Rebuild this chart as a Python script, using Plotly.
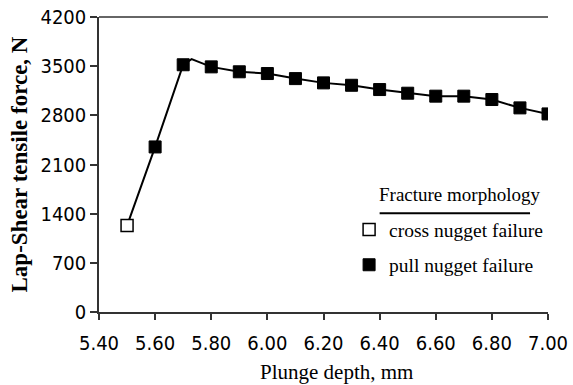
import plotly.graph_objects as go

# Data
line_x = [5.5, 5.6, 5.7, 5.73, 5.8, 5.9, 6.0, 6.1, 6.2, 6.3, 6.4, 6.5, 6.6, 6.7, 6.8, 6.9, 7.0]
line_y = [1230, 2350, 3520, 3600, 3490, 3420, 3395, 3323, 3262, 3228, 3167, 3115, 3073, 3073, 3025, 2906, 2820]

cross_x = [5.5]
cross_y = [1230]

pull_x = [5.6, 5.7, 5.8, 5.9, 6.0, 6.1, 6.2, 6.3, 6.4, 6.5, 6.6, 6.7, 6.8, 6.9, 7.0]
pull_y = [2350, 3520, 3490, 3420, 3395, 3323, 3262, 3228, 3167, 3115, 3073, 3073, 3025, 2906, 2820]

x_ticks = [5.4, 5.6, 5.8, 6.0, 6.2, 6.4, 6.6, 6.8, 7.0]
x_tick_labels = ["5.40", "5.60", "5.80", "6.00", "6.20", "6.40", "6.60", "6.80", "7.00"]
y_ticks = [0, 700, 1400, 2100, 2800, 3500, 4200]

serif = "Liberation Serif, Times New Roman, serif"
narrow = "DejaVu Sans Condensed, sans-serif"

fig = go.Figure()
fig.add_trace(go.Scatter(x=line_x, y=line_y, mode="lines",
                         line=dict(color="black", width=2), showlegend=False, hoverinfo="skip"))
fig.add_trace(go.Scatter(x=cross_x, y=cross_y, mode="markers", name="cross nugget failure",
                         legendgroup="a",
                         marker=dict(symbol="square", size=12, color="white",
                                     line=dict(color="black", width=1.5))))
fig.add_trace(go.Scatter(x=pull_x, y=pull_y, mode="markers", name="pull nugget failure",
                         legendgroup="b",
                         marker=dict(symbol="square", size=12, color="black",
                                     line=dict(color="black", width=1))))

fig.update_layout(
    width=573, height=385,
    margin=dict(l=99, r=25, t=17, b=73),
    paper_bgcolor="white", plot_bgcolor="white",
    showlegend=True,
    legend=dict(x=0.557, y=0.345, xanchor="left", yanchor="top",
                font=dict(family=serif, size=19.5, color="black"),
                bgcolor="rgba(0,0,0,0)", tracegroupgap=7, traceorder="grouped"),
    xaxis=dict(range=[5.4, 7.0], tickvals=x_ticks, ticktext=x_tick_labels, automargin=False,
               showgrid=False, zeroline=False, showline=True, linecolor="#333", linewidth=1.5,
               ticks="outside", ticklen=6, tickwidth=1.5, tickcolor="#333",
               ticklabelstandoff=6,
               tickfont=dict(family=narrow, size=20, color="black")),
    yaxis=dict(range=[0, 4200], tickvals=y_ticks, automargin=False,
               showgrid=False, zeroline=False, showline=True, linecolor="#333", linewidth=1.5,
               ticks="outside", ticklen=7, tickwidth=1.5, tickcolor="#333",
               ticklabelstandoff=0,
               tickfont=dict(family=narrow, size=20, color="black"),
               title=dict(text="<b>Lap-Shear tensile force, N</b>",
                          font=dict(family=serif, size=23, color="black"), standoff=6)),
)

fig.add_annotation(text="Plunge depth, mm", xref="paper", yref="paper",
                   x=0.53, y=-0.205, xanchor="center", yanchor="middle", showarrow=False,
                   font=dict(family=serif, size=21, color="black"))
fig.add_shape(type="line", xref="paper", yref="paper", x0=0, x1=1, y0=1, y1=1,
              line=dict(color="#333", width=1.5))
fig.add_annotation(text="Fracture morphology", xref="paper", yref="paper",
                   x=0.62, y=0.40, xanchor="left", yanchor="middle", showarrow=False,
                   font=dict(family=serif, size=19, color="black"))
fig.add_shape(type="line", xref="paper", yref="paper", x0=0.625, x1=0.96, y0=0.335, y1=0.335,
              line=dict(color="black", width=2))

fig.write_html("out.html")
